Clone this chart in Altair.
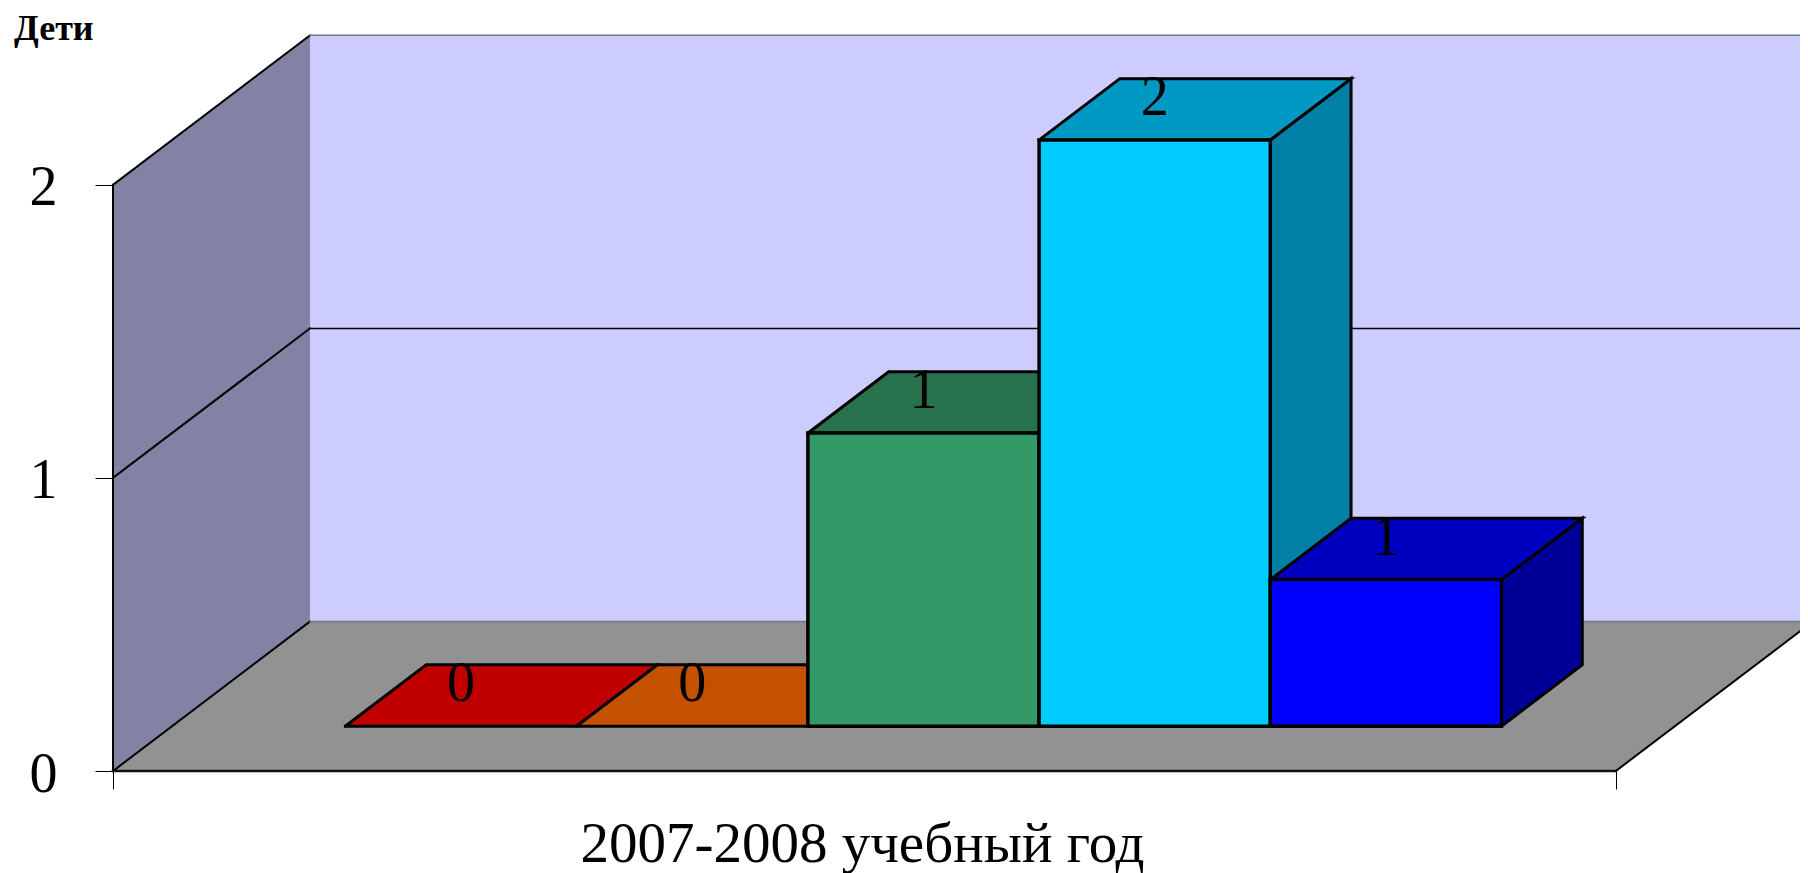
import altair as alt
import pandas as pd

categories = ["a", "b", "c", "d", "e"]
values = [0, 0, 1, 2, 0.5]
value_labels = ["0", "0", "1", "2", "1"]
front_colors = ["#C00000", "#C45100", "#339966", "#00CCFF", "#0000FF"]
top_colors = ["#C00000", "#C45100", "#27724D", "#0099C4", "#0000C0"]
side_colors = ["#900000", "#933D00", "#1F5A3D", "#0080A6", "#000099"]
y_ticks = [0, 1, 2]
x_ticks = [0, 6.5]
x_title = "2007-2008 учебный год"
y_title = "Дети"

X_END = 6.5
Y_END = 2
GAP = 0.75
D_FRONT, D_BACK = 0.3, 0.71
DX = 0.852   # oblique projection: shift per unit of depth
DY = 0.51
FONT = "Liberation Serif"

x_scale = alt.Scale(domain=[0, 7.2967], range=[0, 1687], nice=False, zero=False)
y_scale = alt.Scale(domain=[0, 2.511], range=[736, 0], nice=False, zero=False)
x_axis = alt.Axis(
    values=x_ticks, labels=False, domain=False, grid=False, tickSize=18, tickColor="#000000",
    tickWidth=1, title=x_title, titleFont=FONT, titleFontSize=57, titleFontWeight="normal",
    titleColor="#000000", titleX=749, titleY=90, titleAlign="center",
    titleBaseline="alphabetic")
y_axis = alt.Axis(
    values=y_ticks, format="d", domain=False, grid=False, tickSize=18, tickColor="#000000",
    tickWidth=1, labelFont=FONT, labelFontSize=56, labelColor="#000000", labelPadding=38,
    labelOffset=3, title=None)
X = alt.X("x:Q", scale=x_scale, axis=x_axis)
Y = alt.Y("y:Q", scale=y_scale, axis=y_axis)


def proj(x, v, d):
    return {"x": x + d * DX, "y": v + d * DY}


def poly_layer(pts, fill=None, stroke=None, sw=1.5, close=True):
    rows = [proj(*p) for p in pts]
    if close:
        rows = rows + [rows[0]]
    df = pd.DataFrame(rows)
    df["s"] = range(len(df))
    kw = {"strokeWidth": sw, "strokeJoin": "miter", "strokeCap": "square", "clip": False}
    kw["stroke"] = stroke if stroke else "transparent"
    if fill:
        kw["fill"] = fill
    return alt.Chart(df).mark_line(**kw).encode(x=X, y=Y, order="s:Q")


layers = []
# walls and floor
layers.append(poly_layer([(0, 0, 0), (0, 0, 1), (0, Y_END, 1), (0, Y_END, 0)], fill="#8282A4"))
layers.append(poly_layer([(0, 0, 1), (X_END, 0, 1), (X_END, Y_END, 1), (0, Y_END, 1)], fill="#CCCCFF"))
layers.append(poly_layer([(0, 0, 0), (X_END, 0, 0), (X_END, 0, 1), (0, 0, 1)], fill="#929292"))
# grid and edges
for v in y_ticks:
    layers.append(poly_layer([(0, v, 0), (0, v, 1)], stroke="#000000", sw=2, close=False))
layers.append(poly_layer([(0, 1, 1), (X_END, 1, 1)], stroke="#000000", sw=1.5, close=False))
layers.append(poly_layer([(0, 2, 1), (X_END, 2, 1)], stroke="#77778A", sw=1.5, close=False))
layers.append(poly_layer([(0, 0, 1), (X_END, 0, 1)], stroke="#77778A", sw=1.5, close=False))
layers.append(poly_layer([(X_END, 0, 0), (X_END, 0, 1)], stroke="#000000", sw=2, close=False))
layers.append(poly_layer([(0, 0, 0), (0, Y_END, 0)], stroke="#000000", sw=2, close=False))
layers.append(poly_layer([(0, 0, 0), (X_END, 0, 0)], stroke="#111111", sw=2.5, close=False))

# bars
for i, v in enumerate(values):
    a, b = GAP + i, GAP + i + 1
    if v > 0:
        layers.append(poly_layer([(b, 0, D_FRONT), (b, 0, D_BACK), (b, v, D_BACK), (b, v, D_FRONT)],
                                 fill=side_colors[i], stroke="#000000", sw=3))
    layers.append(poly_layer([(a, v, D_FRONT), (b, v, D_FRONT), (b, v, D_BACK), (a, v, D_BACK)],
                             fill=top_colors[i], stroke="#000000", sw=3))
    if v > 0:
        layers.append(poly_layer([(a, 0, D_FRONT), (b, 0, D_FRONT), (b, v, D_FRONT), (a, v, D_FRONT)],
                                 fill=front_colors[i], stroke="#000000", sw=3.5))

# value labels
lab = pd.DataFrame([
    dict(proj(GAP + i + 0.5, v, D_FRONT), t=value_labels[i]) for i, v in enumerate(values)
])
layers.append(alt.Chart(lab).mark_text(font=FONT, fontSize=56, baseline="alphabetic",
                                       align="center", dy=-25, color="#000000").encode(
    x=X, y=Y, text="t:N",
))

layers.append(alt.Chart(pd.DataFrame({"t": [y_title]})).mark_text(
    font=FONT, fontSize=36, fontWeight="bold", align="left", baseline="alphabetic",
    color="#000000").encode(x=alt.value(-99), y=alt.value(5), text="t:N"))

chart = alt.layer(*layers).properties(
    width=1687, height=736,
    padding={"left": 105, "top": 27, "right": 0, "bottom": 102},
    autosize=alt.AutoSizeParams(type="none"),
    background="#FFFFFF",
).configure_view(stroke=None)

chart.save("out.html", embed_options={"renderer": "svg", "actions": False})
